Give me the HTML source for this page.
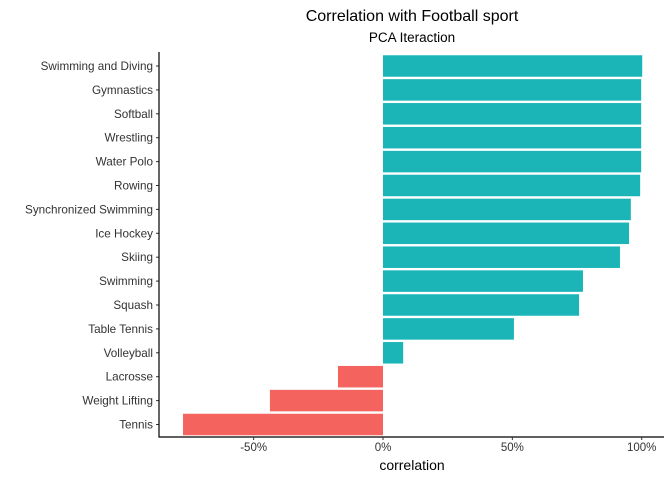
<!DOCTYPE html>
<html><head><meta charset="utf-8"><style>
body{margin:0;background:#fff;font-family:"Liberation Sans",sans-serif}
</style></head><body>
<svg id="c" width="672" height="480">
<text x="412" y="21" font-size="16" text-anchor="middle" fill="#000">Correlation with Football sport</text>
<text x="412" y="42" font-size="13.5" text-anchor="middle" fill="#000">PCA Iteraction</text>
<text x="412" y="470" font-size="14" text-anchor="middle" fill="#000">correlation</text>
<g id="plot"></g>
</svg>
<script>
const categories=["Swimming and Diving","Gymnastics","Softball","Wrestling","Water Polo","Rowing","Synchronized Swimming","Ice Hockey","Skiing","Swimming","Squash","Table Tennis","Volleyball","Lacrosse","Weight Lifting","Tennis"];
const values=[100.2,99.8,99.8,99.8,99.8,99.4,95.8,95.1,91.6,77.3,75.8,50.6,7.8,-17.4,-43.7,-77.3];
const ticks=[-50,0,50,100];
const tickLabels=["-50%","0%","50%","100%"];
const NS="http://www.w3.org/2000/svg";
const g=document.getElementById('plot');
const x=v=>383+v*2.587;
const y=i=>66+i*23.9;
function el(t,a){const e=document.createElementNS(NS,t);for(const k in a)e.setAttribute(k,a[k]);g.appendChild(e);return e;}
categories.forEach((c,i)=>{
  const v=values[i];
  const r=el('rect',{x:Math.min(x(0),x(v)),y:y(i)-10.75,width:Math.abs(x(v)-x(0)),height:21.5,fill:v>=0?'#1BB5B8':'#F4635E'});
  
  
  const t=el('text',{x:153,y:y(i)+4,'font-size':11.7,'text-anchor':'end',fill:'#333'});
  t.textContent=c;
  
  
  const tk=el('line',{x1:156,x2:159,y1:y(i),y2:y(i),stroke:'#333'});
  
  
});
const ya=el('line',{x1:159,x2:159,y1:52,y2:437.5,stroke:'#000','stroke-width':1.2});


const xa=el('line',{x1:159,x2:664,y1:437,y2:437,stroke:'#000','stroke-width':1.2});


ticks.forEach((v,i)=>{
  const l=el('line',{x1:x(v),x2:x(v),y1:437,y2:440,stroke:'#333'});
  
  
  const t=el('text',{x:x(v),y:451,'font-size':11.5,'text-anchor':'middle',fill:'#333'});
  t.textContent=tickLabels[i];
  
  
});
</script>
</body></html>
